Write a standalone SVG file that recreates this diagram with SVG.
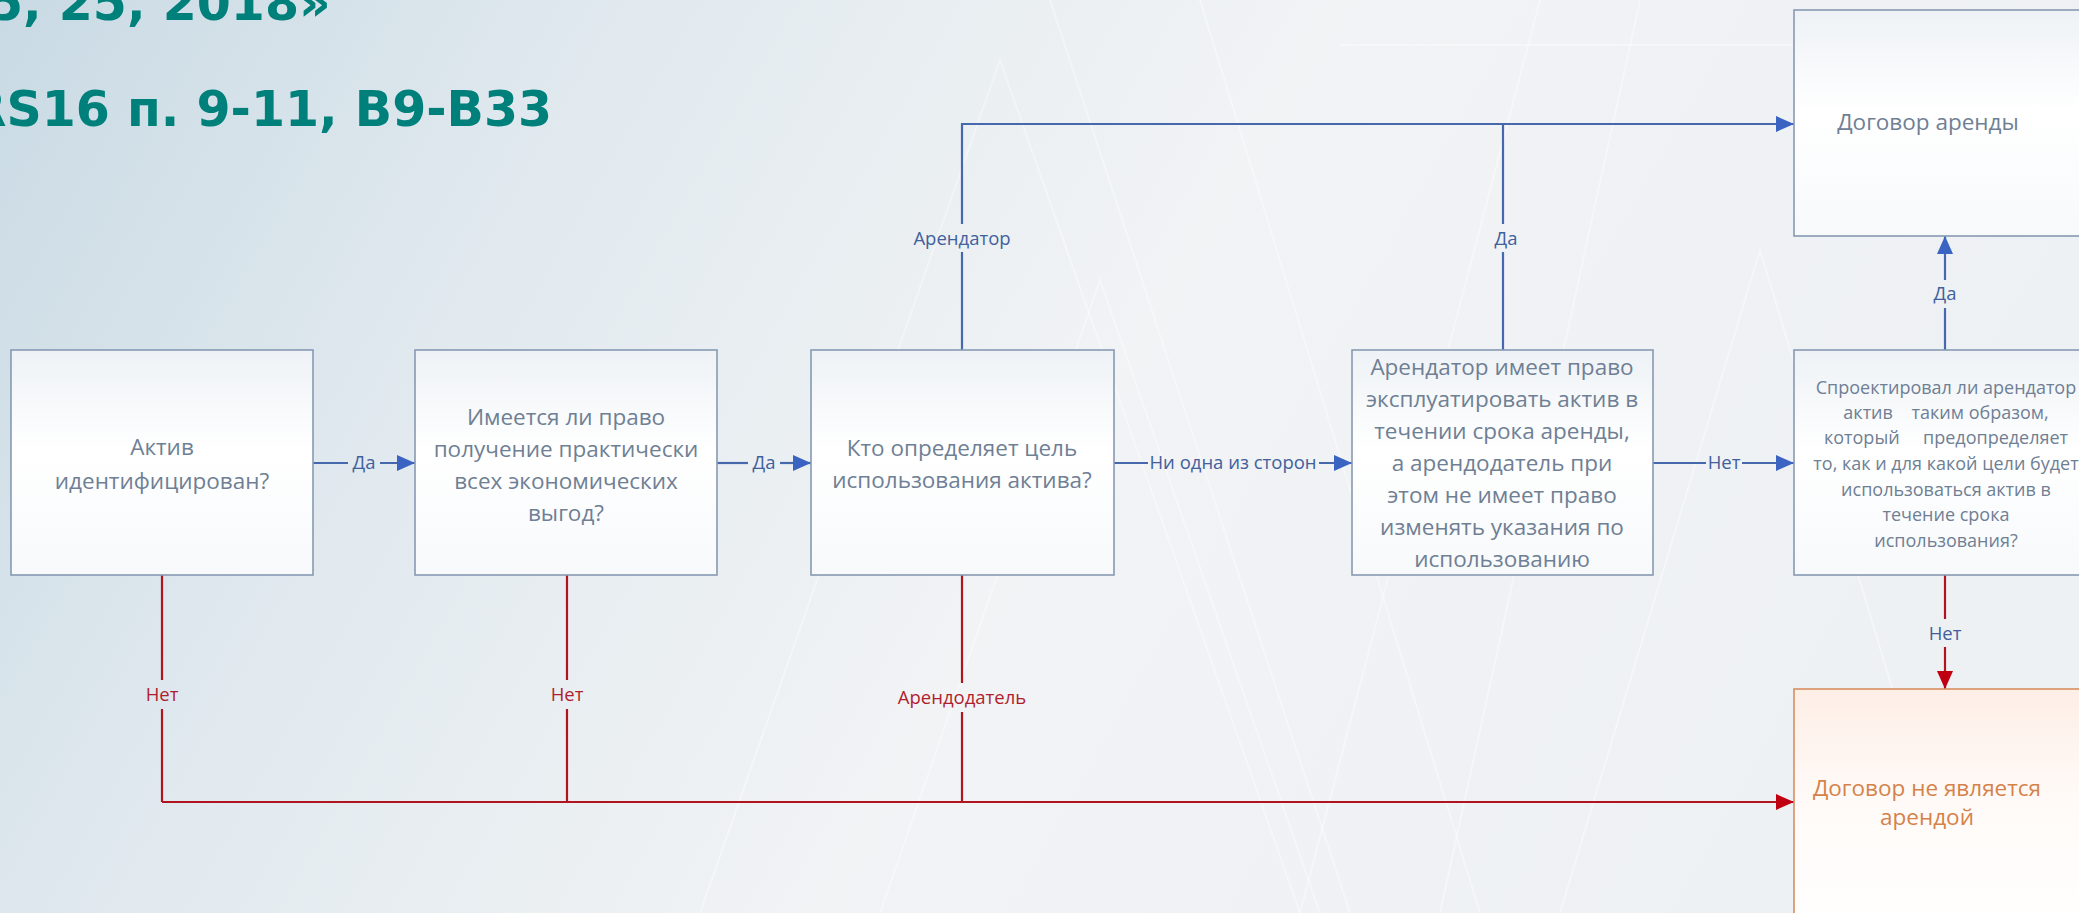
<svg xmlns="http://www.w3.org/2000/svg" width="2079" height="913" viewBox="0 0 2079 913">
  <defs>
    <linearGradient id="bg" x1="0" y1="0" x2="1" y2="0.25">
      <stop offset="0" stop-color="#c9dae4"/>
      <stop offset="0.3" stop-color="#e2eaef"/>
      <stop offset="0.6" stop-color="#f1f3f5"/>
      <stop offset="1" stop-color="#eef1f4"/>
    </linearGradient>
    <linearGradient id="boxfill" x1="0" y1="0" x2="0" y2="1">
      <stop offset="0" stop-color="#eef2f6"/>
      <stop offset="0.45" stop-color="#ffffff"/>
      <stop offset="1" stop-color="#f7f9fb"/>
    </linearGradient>
    <linearGradient id="redfill" x1="0" y1="0" x2="0" y2="1">
      <stop offset="0" stop-color="#fdeee6"/>
      <stop offset="0.45" stop-color="#fffaf7"/>
      <stop offset="1" stop-color="#ffffff"/>
    </linearGradient>
    <marker id="ab" viewBox="0 0 18 16" refX="18" refY="8" markerWidth="18" markerHeight="16" markerUnits="userSpaceOnUse" orient="auto">
      <path d="M0,0 L18,8 L0,16 z" fill="#3a63c2"/>
    </marker>
    <marker id="ar" viewBox="0 0 18 16" refX="18" refY="8" markerWidth="18" markerHeight="16" markerUnits="userSpaceOnUse" orient="auto">
      <path d="M0,0 L18,8 L0,16 z" fill="#c00010"/>
    </marker>
  </defs>
  <style>
    .box { fill: url(#boxfill); stroke: #8799b3; stroke-width: 1.6; }
    .boxr { fill: url(#redfill); stroke: #d68e62; stroke-width: 1.6; }
    .t { font-family: "Open Sans", "Liberation Sans", sans-serif; font-size: 22.5px; fill: #6f7f94; text-anchor: middle; }
    .ts { font-size: 18px; }
    .tr { fill: #d4824a; }
    .lb { font-family: "Open Sans", "Liberation Sans", sans-serif; font-size: 18.5px; fill: #41609c; text-anchor: middle; }
    .lr { fill: #b01e2e; }
    .cb { fill: none; stroke: #4668ad; stroke-width: 2.2; }
    .cr { fill: none; stroke: #b0141e; stroke-width: 2.2; }
    .title { font-family: "DejaVu Sans", "Liberation Sans", sans-serif; font-weight: bold; fill: #00807a; font-size: 49px; }
    .tri { fill: none; stroke: #ffffff; stroke-width: 2; opacity: 0.35; }
  </style>

  <rect x="0" y="0" width="2079" height="913" fill="url(#bg)"/>
  <g id="background-pattern">
    <path class="tri" d="M700,913 L1000,60 L1300,913"/>
    <path class="tri" d="M880,913 L1100,280 L1320,913"/>
    <path class="tri" d="M1050,0 L1350,913"/>
    <path class="tri" d="M1200,0 L1480,913"/>
    <path class="tri" d="M1540,0 L1300,913"/>
    <path class="tri" d="M1640,0 L1440,913"/>
    <path class="tri" d="M1560,913 L1760,250 L1960,913"/>
    <path class="tri" d="M1340,45 L2079,45"/>
  </g>

  <g id="title">
    <text class="title" x="-11" y="20">5, 25, 2018»</text>
    <text class="title" x="-83" y="126">IFRS16 п. 9-11, B9-B33</text>
  </g>

  <g id="connectors">
    <!-- Box1 -> Box2 -->
    <path class="cb" d="M313,463 H348"/>
    <path class="cb" d="M380,463 H415" marker-end="url(#ab)"/>
    <text class="lb" x="364" y="469">Да</text>
    <!-- Box2 -> Box3 -->
    <path class="cb" d="M717,463 H748"/>
    <path class="cb" d="M780,463 H811" marker-end="url(#ab)"/>
    <text class="lb" x="764" y="469">Да</text>
    <!-- Box3 -> Box4 -->
    <path class="cb" d="M1114,463 H1148"/>
    <path class="cb" d="M1319,463 H1352" marker-end="url(#ab)"/>
    <text class="lb" x="1233" y="469">Ни одна из сторон</text>
    <!-- Box4 -> Box5 -->
    <path class="cb" d="M1653,463 H1706"/>
    <path class="cb" d="M1742,463 H1794" marker-end="url(#ab)"/>
    <text class="lb" x="1724" y="469">Нет</text>
    <!-- Box3 top -> Договор аренды -->
    <path class="cb" d="M962,350 V252"/>
    <path class="cb" d="M962,224 V124 H1794" marker-end="url(#ab)" stroke-width="2.6"/>
    <text class="lb" x="962" y="245">Арендатор</text>
    <!-- Box4 top -> line -->
    <path class="cb" d="M1503,350 V252"/>
    <path class="cb" d="M1503,224 V124"/>
    <text class="lb" x="1506" y="245">Да</text>
    <!-- Box5 top -> Договор аренды -->
    <path class="cb" d="M1945,350 V308"/>
    <path class="cb" d="M1945,280 V236" marker-end="url(#ab)"/>
    <text class="lb" x="1945" y="300">Да</text>
    <!-- Box5 bottom -> Не является арендой -->
    <path class="cr" d="M1945,575 V619"/>
    <path class="cr" d="M1945,647 V689" marker-end="url(#ar)"/>
    <text class="lb" x="1945" y="640">Нет</text>
    <!-- Box1 bottom -->
    <path class="cr" d="M162,575 V680"/>
    <path class="cr" d="M162,709 V802"/>
    <text class="lb lr" x="162" y="701">Нет</text>
    <!-- Box2 bottom -->
    <path class="cr" d="M567,575 V680"/>
    <path class="cr" d="M567,709 V802"/>
    <text class="lb lr" x="567" y="701">Нет</text>
    <!-- Box3 bottom -->
    <path class="cr" d="M962,575 V683"/>
    <path class="cr" d="M962,712 V802"/>
    <text class="lb lr" x="962" y="704">Арендодатель</text>
    <!-- Red horizontal -->
    <path class="cr" d="M162,802 H1794" stroke-width="3.2" marker-end="url(#ar)"/>
  </g>

  <g id="node-asset">
    <rect class="box" x="11" y="350" width="302" height="225"/>
    <text class="t" x="162" y="455">Актив</text>
    <text class="t" x="162" y="489">идентифицирован?</text>
  </g>

  <g id="node-benefits">
    <rect class="box" x="415" y="350" width="302" height="225"/>
    <text class="t" x="566" y="425">Имеется ли право</text>
    <text class="t" x="566" y="457">получение практически</text>
    <text class="t" x="566" y="489">всех экономических</text>
    <text class="t" x="566" y="521">выгод?</text>
  </g>

  <g id="node-purpose">
    <rect class="box" x="811" y="350" width="303" height="225"/>
    <text class="t" x="962" y="456">Кто определяет цель</text>
    <text class="t" x="962" y="488">использования актива?</text>
  </g>

  <g id="node-operate">
    <rect class="box" x="1352" y="350" width="301" height="225"/>
    <text class="t" x="1502" y="375">Арендатор имеет право</text>
    <text class="t" x="1502" y="407">эксплуатировать актив в</text>
    <text class="t" x="1502" y="439">течении срока аренды,</text>
    <text class="t" x="1502" y="471">а арендодатель при</text>
    <text class="t" x="1502" y="503">этом не имеет право</text>
    <text class="t" x="1502" y="535">изменять указания по</text>
    <text class="t" x="1502" y="567">использованию</text>
  </g>

  <g id="node-designed">
    <rect class="box" x="1794" y="350" width="302" height="225"/>
    <text class="t ts" x="1946" y="394">Спроектировал ли арендатор</text>
    <text class="t ts" x="1946" y="419" xml:space="preserve">актив    таким образом,</text>
    <text class="t ts" x="1946" y="444" xml:space="preserve">который     предопределяет</text>
    <text class="t ts" x="1946" y="470">то, как и для какой цели будет</text>
    <text class="t ts" x="1946" y="496">использоваться актив в</text>
    <text class="t ts" x="1946" y="521">течение срока</text>
    <text class="t ts" x="1946" y="547">использования?</text>
  </g>

  <g id="node-lease">
    <rect class="box" x="1794" y="10" width="302" height="226"/>
    <text class="t" x="1928" y="130" font-size="20">Договор аренды</text>
  </g>

  <g id="node-not-lease">
    <rect class="boxr" x="1794" y="689" width="302" height="240"/>
    <text class="t tr" x="1927" y="796" font-size="18.5">Договор не является</text>
    <text class="t tr" x="1927" y="825" font-size="18.5">арендой</text>
  </g>
</svg>
